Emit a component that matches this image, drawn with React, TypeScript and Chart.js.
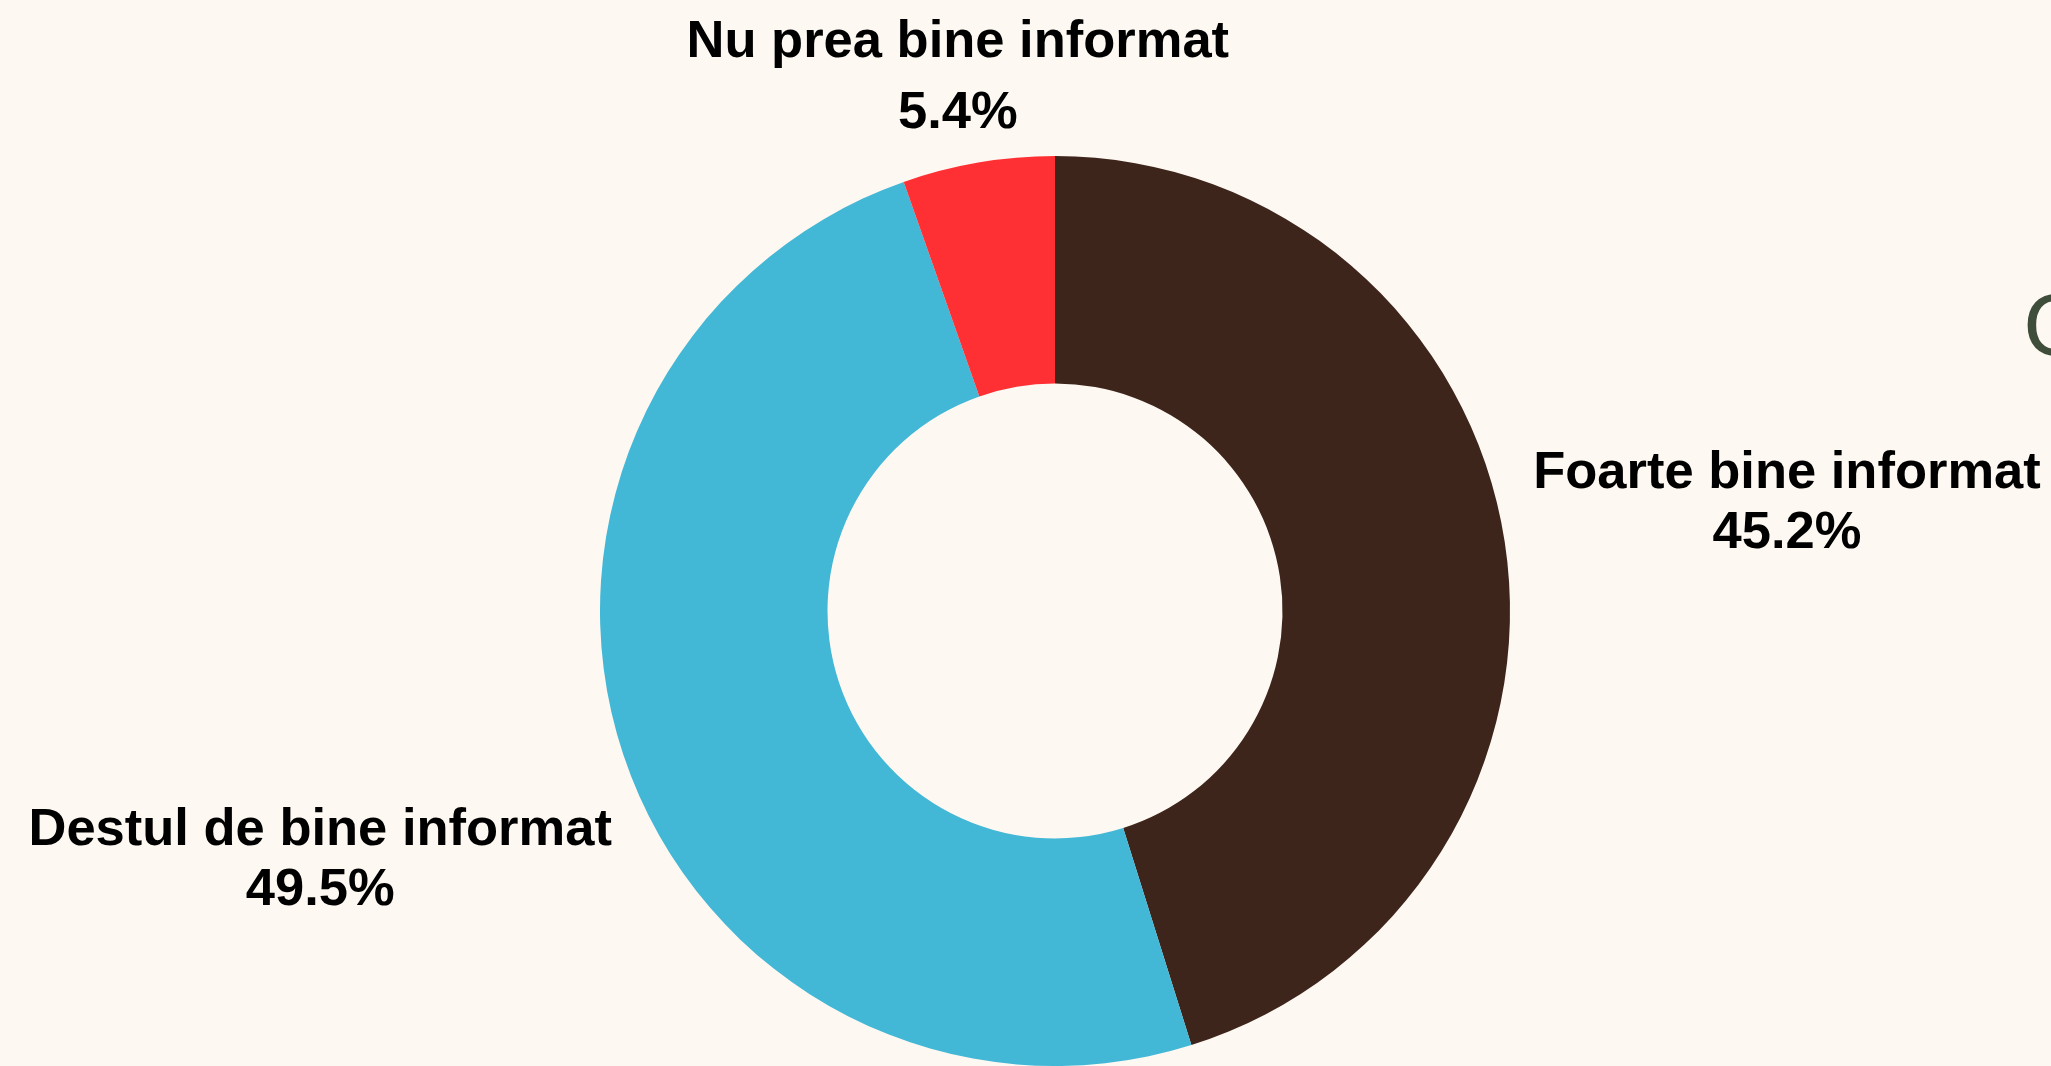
import React, { useEffect, useRef } from "react";
import { Chart, registerables } from "chart.js";

Chart.register(...registerables);

const categories = ["Foarte bine informat", "Destul de bine informat", "Nu prea bine informat"];
const percentages = [45.2, 49.5, 5.4];
const sliceColors = ["#3E251C", "#42B7D6", "#FF3034"];
const sideTitle = "C";

const BG = "#FDF8F2";

const bgPlugin = {
  id: "bgFill",
  beforeDraw(chart: any) {
    const ctx = chart.ctx;
    ctx.save();
    ctx.fillStyle = BG;
    ctx.fillRect(0, 0, chart.width, chart.height);
    ctx.restore();
  },
};

const labelPlugin = {
  id: "outerLabels",
  afterDatasetsDraw(chart: any) {
    const ctx = chart.ctx;
    const meta = chart.getDatasetMeta(0);
    ctx.save();
    ctx.font = "bold 52.5px 'Liberation Sans', Arial, sans-serif";
    ctx.fillStyle = "#000000";
    ctx.textAlign = "center";
    ctx.textBaseline = "alphabetic";
    meta.data.forEach((arc: any, i: number) => {
      const p = arc.getProps(["x", "y", "startAngle", "endAngle", "outerRadius"], true);
      const mid = (p.startAngle + p.endAngle) / 2;
      const dx = Math.cos(mid);
      const dy = Math.sin(mid);
      const line1 = categories[i];
      const line2 = percentages[i].toFixed(1) + "%";
      const w = Math.max(ctx.measureText(line1).width, ctx.measureText(line2).width);
      const asc = 38;
      let gap = 60;
      const halfW = w / 2;
      const halfH = (asc + gap) / 2;
      const D = p.outerRadius * 1.06 + Math.abs(dx) * halfW + Math.abs(dy) * halfH;
      const cx = p.x + dx * D;
      const cy = p.y + dy * D;
      let top = cy - halfH;
      if (top < 19) {
        top = 19;
        gap = 71;
      }
      const b1 = top + asc;
      ctx.fillText(line1, cx, b1);
      ctx.fillText(line2, cx, b1 + gap);
    });
    ctx.restore();
  },
  afterDraw(chart: any) {
    const ctx = chart.ctx;
    ctx.save();
    ctx.font = "82px 'DejaVu Sans', 'Open Sans', sans-serif";
    ctx.fillStyle = "#3E4E3B";
    ctx.textAlign = "left";
    ctx.textBaseline = "alphabetic";
    ctx.fillText(sideTitle, 2023, 355);
    ctx.restore();
  },
};

export default function App() {
  const ref = useRef<HTMLCanvasElement | null>(null);

  useEffect(() => {
    document.body.style.margin = "0";
    document.body.style.overflow = "hidden";
    document.body.style.background = BG;
    const canvas = ref.current;
    if (!canvas) return;
    const chart = new Chart(canvas, {
      type: "doughnut",
      data: {
        labels: categories,
        datasets: [
          {
            data: percentages,
            backgroundColor: sliceColors,
            borderWidth: 0,
          },
        ],
      },
      options: {
        responsive: false,
        animation: false,
        cutout: "50%",
        layout: { padding: { top: 156, bottom: -2, left: 59, right: 0 } },
        plugins: {
          legend: { display: false },
          tooltip: { enabled: false },
          title: { display: false },
        },
      },
      plugins: [bgPlugin, labelPlugin],
    });
    return () => chart.destroy();
  }, []);

  return (
    <div style={{ width: 2051, height: 1066, background: BG, overflow: "hidden" }}>
      <canvas ref={ref} width={2051} height={1066} style={{ display: "block" }} />
    </div>
  );
}
